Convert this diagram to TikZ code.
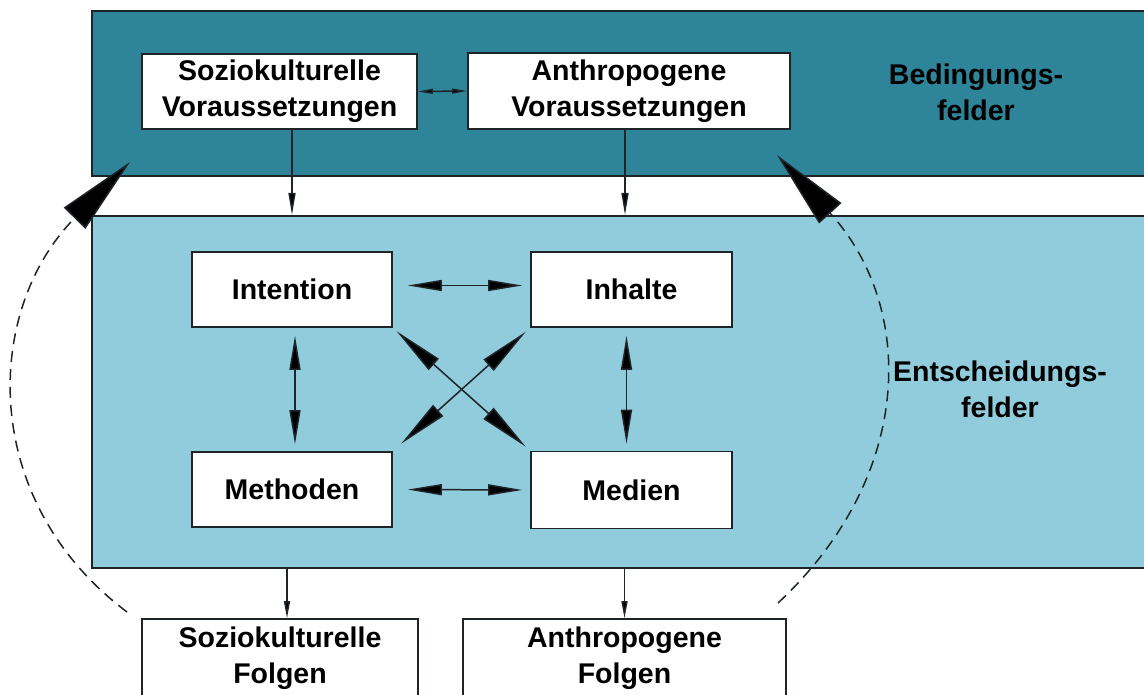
\documentclass[tikz,border=0pt]{standalone}
\usepackage{fontspec}
\setmainfont{Liberation Sans}
\usetikzlibrary{arrows.meta}
\definecolor{darkteal}{RGB}{46,132,152}
\definecolor{lightteal}{RGB}{145,204,220}
\definecolor{edge}{RGB}{30,36,40}
\tikzset{
  band/.style={draw=edge, line width=2pt, anchor=north west, inner sep=0pt},
  box/.style={draw=edge, fill=white, line width=1.6pt, align=center, inner sep=0pt,
    font=\fontsize{28.5}{36}\selectfont\bfseries},
  lbl/.style={align=center, inner sep=0pt, font=\fontsize{28.5}{36}\selectfont\bfseries},
  conn/.style={draw=edge, line width=1.5pt},
  smallboth/.style={conn, {Triangle[length=15pt,width=5pt,fill=black]}-{Triangle[length=15pt,width=5pt,fill=black]}},
  smalldown/.style={conn, -{Triangle[length=22pt,width=7pt,fill=black]}},
  tinydown/.style={conn, -{Triangle[length=17pt,width=6pt,fill=black]}},
  midboth/.style={conn, {Triangle[length=34pt,width=11pt,fill=black]}-{Triangle[length=34pt,width=11pt,fill=black]}},
  diagboth/.style={conn, {Triangle[length=50pt,width=15pt,fill=black]}-{Triangle[length=50pt,width=15pt,fill=black]}},
  loop/.style={draw=edge, line width=1.5pt, dash pattern=on 11pt off 7pt,
    -{Triangle[length=79pt,width=30pt,fill=black]}}
}
\begin{document}
\begin{tikzpicture}[x=1pt,y=-1pt]
\useasboundingbox (0,0) rectangle (1144,695);
\clip (0,0) rectangle (1144,695);
% bands
\node[band, fill=darkteal, minimum width=1120pt, minimum height=165pt] (bed) at (91,10) {};
\node[band, fill=lightteal, minimum width=1120pt, minimum height=352pt] (ent) at (91,215) {};
\node[lbl] (bedlbl) at (976,92) {Bedingungs-\\felder};
\node[lbl] (entlbl) at (1000,389.5) {Entscheidungs-\\felder};
% top boxes
\node[box, minimum width=275pt, minimum height=75pt] (sozV) at (279.5,91.5) {Soziokulturelle\\Voraussetzungen};
\node[box, minimum width=322pt, minimum height=76pt] (antV) at (629,91) {Anthropogene\\Voraussetzungen};
% inner boxes
\node[box, minimum width=200pt, minimum height=75pt] (int) at (292,289.5) {Intention};
\node[box, minimum width=201pt, minimum height=75pt] (inh) at (631.5,289.5) {Inhalte};
\node[box, minimum width=200pt, minimum height=75pt] (met) at (292,489.5) {Methoden};
\node[box, minimum width=201pt, minimum height=77pt] (med) at (631.5,490) {Medien};
% bottom boxes
\node[box, minimum width=276pt, minimum height=78pt] (sozF) at (280,658) {Soziokulturelle\\Folgen};
\node[box, minimum width=323pt, minimum height=78pt] (antF) at (624.5,658) {Anthropogene\\Folgen};
% top connectors
\draw[smallboth] (sozV.east) -- (antV.west);
\draw[smalldown] ([xshift=12.5pt]sozV.south) -- ([xshift=12.5pt]sozV.south |- ent.north);
\draw[smalldown] ([xshift=-4pt]antV.south) -- ([xshift=-4pt]antV.south |- ent.north);
% inner connectors
\draw[midboth, shorten <=15pt, shorten >=8pt] ([yshift=4pt]int.east) -- ([yshift=4pt]inh.west);
\draw[midboth, shorten <=15pt, shorten >=8pt] (met.east) -- (med.west);
\draw[midboth, shorten <=8pt, shorten >=7pt] ([xshift=3pt]int.south) -- ([xshift=3pt]int.south |- met.north);
\draw[midboth, shorten <=8pt, shorten >=7pt] ([xshift=-5pt]inh.south) -- ([xshift=-5pt]inh.south |- med.north);
\draw[diagboth, shorten <=5pt, shorten >=6pt] (int.south east) -- (med.north west);
\draw[diagboth, shorten <=6pt, shorten >=11pt] (inh.south west) -- (met.north east);
% bottom connectors
\draw[tinydown] ([xshift=7pt]sozF.north |- ent.south) -- ([xshift=7pt]sozF.north);
\draw[tinydown] (antF.north |- ent.south) -- (antF.north);
% feedback loops
\coordinate (lstart) at (127,612);
\coordinate (ltip) at (130,162);
\coordinate (rstart) at (778,603);
\coordinate (rtip) at (777,155);
\draw[loop] (lstart) .. controls (-22,500) and (-16,310) .. (ltip);
\draw[loop] (rstart) .. controls (916,474) and (915,306) .. (rtip);
\end{tikzpicture}
\end{document}
